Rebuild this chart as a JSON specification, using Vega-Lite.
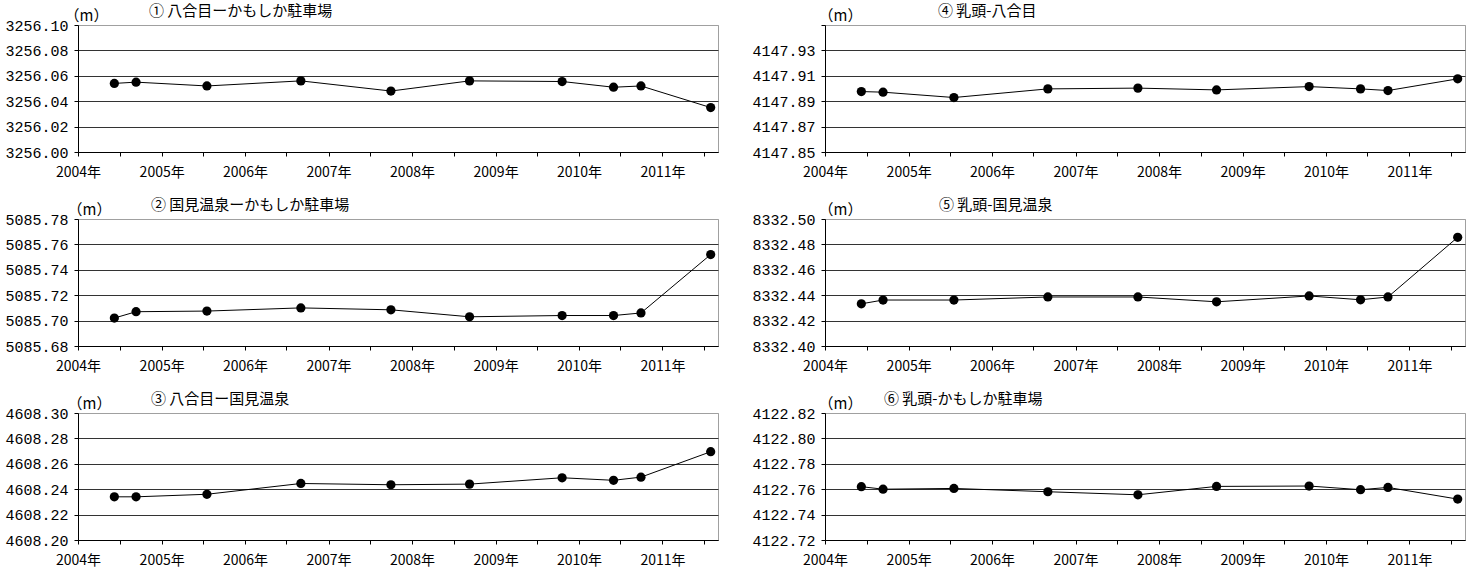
{
  "$schema": "https://vega.github.io/schema/vega-lite/v6.json",
  "padding": {"left": 4, "top": 3, "right": 4, "bottom": 2},
  "background": "white",
  "datasets": {
    "survey": [
      {"panel": 1, "date": "2004/06/08", "h": 3256.054},
      {"panel": 1, "date": "2004/09/11", "h": 3256.055},
      {"panel": 1, "date": "2005/07/18", "h": 3256.052},
      {"panel": 1, "date": "2006/09/02", "h": 3256.056},
      {"panel": 1, "date": "2007/10/01", "h": 3256.048},
      {"panel": 1, "date": "2008/09/09", "h": 3256.056},
      {"panel": 1, "date": "2009/10/19", "h": 3256.0555},
      {"panel": 1, "date": "2010/06/01", "h": 3256.051},
      {"panel": 1, "date": "2010/09/29", "h": 3256.052},
      {"panel": 1, "date": "2011/07/31", "h": 3256.035},
      {"panel": 2, "date": "2004/06/08", "h": 5085.702},
      {"panel": 2, "date": "2004/09/11", "h": 5085.707},
      {"panel": 2, "date": "2005/07/18", "h": 5085.7075},
      {"panel": 2, "date": "2006/09/02", "h": 5085.710},
      {"panel": 2, "date": "2007/10/01", "h": 5085.7085},
      {"panel": 2, "date": "2008/09/09", "h": 5085.703},
      {"panel": 2, "date": "2009/10/19", "h": 5085.704},
      {"panel": 2, "date": "2010/06/01", "h": 5085.704},
      {"panel": 2, "date": "2010/09/29", "h": 5085.706},
      {"panel": 2, "date": "2011/07/31", "h": 5085.752},
      {"panel": 3, "date": "2004/06/08", "h": 4608.234},
      {"panel": 3, "date": "2004/09/11", "h": 4608.234},
      {"panel": 3, "date": "2005/07/18", "h": 4608.236},
      {"panel": 3, "date": "2006/09/02", "h": 4608.2445},
      {"panel": 3, "date": "2007/10/01", "h": 4608.2435},
      {"panel": 3, "date": "2008/09/09", "h": 4608.244},
      {"panel": 3, "date": "2009/10/19", "h": 4608.249},
      {"panel": 3, "date": "2010/06/01", "h": 4608.247},
      {"panel": 3, "date": "2010/09/29", "h": 4608.2495},
      {"panel": 3, "date": "2011/07/31", "h": 4608.2695},
      {"panel": 4, "date": "2004/06/08", "h": 4147.8976},
      {"panel": 4, "date": "2004/09/11", "h": 4147.8971},
      {"panel": 4, "date": "2005/07/18", "h": 4147.8929},
      {"panel": 4, "date": "2006/09/02", "h": 4147.8997},
      {"panel": 4, "date": "2007/10/01", "h": 4147.9003},
      {"panel": 4, "date": "2008/09/09", "h": 4147.8989},
      {"panel": 4, "date": "2009/10/19", "h": 4147.9015},
      {"panel": 4, "date": "2010/06/01", "h": 4147.8997},
      {"panel": 4, "date": "2010/09/29", "h": 4147.8984},
      {"panel": 4, "date": "2011/07/31", "h": 4147.9076},
      {"panel": 5, "date": "2004/06/08", "h": 8332.4332},
      {"panel": 5, "date": "2004/09/11", "h": 8332.4362},
      {"panel": 5, "date": "2005/07/18", "h": 8332.4362},
      {"panel": 5, "date": "2006/09/02", "h": 8332.4386},
      {"panel": 5, "date": "2007/10/01", "h": 8332.4386},
      {"panel": 5, "date": "2008/09/09", "h": 8332.4348},
      {"panel": 5, "date": "2009/10/19", "h": 8332.4394},
      {"panel": 5, "date": "2010/06/01", "h": 8332.4364},
      {"panel": 5, "date": "2010/09/29", "h": 8332.4386},
      {"panel": 5, "date": "2011/07/31", "h": 8332.4856},
      {"panel": 6, "date": "2004/06/08", "h": 4122.762},
      {"panel": 6, "date": "2004/09/11", "h": 4122.760},
      {"panel": 6, "date": "2005/07/18", "h": 4122.7606},
      {"panel": 6, "date": "2006/09/02", "h": 4122.758},
      {"panel": 6, "date": "2007/10/01", "h": 4122.7556},
      {"panel": 6, "date": "2008/09/09", "h": 4122.7622},
      {"panel": 6, "date": "2009/10/19", "h": 4122.7625},
      {"panel": 6, "date": "2010/06/01", "h": 4122.7596},
      {"panel": 6, "date": "2010/09/29", "h": 4122.7614},
      {"panel": 6, "date": "2011/07/31", "h": 4122.7522}
    ]
  },
  "data": {"name": "survey"},
  "columns": 2,
  "spacing": {"row": 17, "column": 32},
  "concat": [
    {
      "width": 640, "height": 127,
      "title": {"text": "① 八合目ーかもしか駐車場", "dx": 71, "dy": 15},
      "transform": [{"filter": "datum.panel == 1"}],
      "encoding": {
        "x": {"field": "date", "type": "temporal", "scale": {"domain": [{"year": 2004, "month": 1, "date": 1}, {"year": 2011, "month": 9, "date": 1}]}},
        "y": {"field": "h", "type": "quantitative", "scale": {"domain": [3256.00, 3256.10], "zero": false, "nice": false},
              "axis": {"title": "（m）", "values": [3256.00, 3256.02, 3256.04, 3256.06, 3256.08, 3256.10], "titleX": -14}}
      },
      "layer": [
        {"mark": {"type": "line", "color": "#000000", "strokeWidth": 1}},
        {"mark": {"type": "point", "filled": true, "color": "#000000", "size": 85, "opacity": 1}}
      ]
    },
    {
      "width": 640, "height": 127,
      "title": {"text": "④ 乳頭-八合目", "dx": 113, "dy": 15},
      "transform": [{"filter": "datum.panel == 4"}],
      "encoding": {
        "x": {"field": "date", "type": "temporal", "scale": {"domain": [{"year": 2004, "month": 1, "date": 1}, {"year": 2011, "month": 9, "date": 1}]}},
        "y": {"field": "h", "type": "quantitative", "scale": {"domain": [4147.85, 4147.95], "zero": false, "nice": false},
              "axis": {"title": "（m）", "values": [4147.85, 4147.87, 4147.89, 4147.91, 4147.93, 4147.95], "titleX": -7,
                       "labelExpr": "datum.value > 4147.94 ? '' : format(datum.value, '.2f')"}}
      },
      "layer": [
        {"mark": {"type": "line", "color": "#000000", "strokeWidth": 1}},
        {"mark": {"type": "point", "filled": true, "color": "#000000", "size": 85, "opacity": 1}}
      ]
    },
    {
      "width": 640, "height": 127,
      "title": {"text": "② 国見温泉ーかもしか駐車場", "dx": 73, "dy": 15},
      "transform": [{"filter": "datum.panel == 2"}],
      "encoding": {
        "x": {"field": "date", "type": "temporal", "scale": {"domain": [{"year": 2004, "month": 1, "date": 1}, {"year": 2011, "month": 9, "date": 1}]}},
        "y": {"field": "h", "type": "quantitative", "scale": {"domain": [5085.68, 5085.78], "zero": false, "nice": false},
              "axis": {"title": "（m）", "values": [5085.68, 5085.70, 5085.72, 5085.74, 5085.76, 5085.78], "titleX": -11}}
      },
      "layer": [
        {"mark": {"type": "line", "color": "#000000", "strokeWidth": 1}},
        {"mark": {"type": "point", "filled": true, "color": "#000000", "size": 85, "opacity": 1}}
      ]
    },
    {
      "width": 640, "height": 127,
      "title": {"text": "⑤ 乳頭-国見温泉", "dx": 114, "dy": 15},
      "transform": [{"filter": "datum.panel == 5"}],
      "encoding": {
        "x": {"field": "date", "type": "temporal", "scale": {"domain": [{"year": 2004, "month": 1, "date": 1}, {"year": 2011, "month": 9, "date": 1}]}},
        "y": {"field": "h", "type": "quantitative", "scale": {"domain": [8332.40, 8332.50], "zero": false, "nice": false},
              "axis": {"title": "（m）", "values": [8332.40, 8332.42, 8332.44, 8332.46, 8332.48, 8332.50], "titleX": -7}}
      },
      "layer": [
        {"mark": {"type": "line", "color": "#000000", "strokeWidth": 1}},
        {"mark": {"type": "point", "filled": true, "color": "#000000", "size": 85, "opacity": 1}}
      ]
    },
    {
      "width": 640, "height": 127,
      "title": {"text": "③ 八合目ー国見温泉", "dx": 73, "dy": 15},
      "transform": [{"filter": "datum.panel == 3"}],
      "encoding": {
        "x": {"field": "date", "type": "temporal", "scale": {"domain": [{"year": 2004, "month": 1, "date": 1}, {"year": 2011, "month": 9, "date": 1}]}},
        "y": {"field": "h", "type": "quantitative", "scale": {"domain": [4608.20, 4608.30], "zero": false, "nice": false},
              "axis": {"title": "（m）", "values": [4608.20, 4608.22, 4608.24, 4608.26, 4608.28, 4608.30], "titleX": -11}}
      },
      "layer": [
        {"mark": {"type": "line", "color": "#000000", "strokeWidth": 1}},
        {"mark": {"type": "point", "filled": true, "color": "#000000", "size": 85, "opacity": 1}}
      ]
    },
    {
      "width": 640, "height": 127,
      "title": {"text": "⑥ 乳頭-かもしか駐車場", "dx": 59, "dy": 15},
      "transform": [{"filter": "datum.panel == 6"}],
      "encoding": {
        "x": {"field": "date", "type": "temporal", "scale": {"domain": [{"year": 2004, "month": 1, "date": 1}, {"year": 2011, "month": 9, "date": 1}]}},
        "y": {"field": "h", "type": "quantitative", "scale": {"domain": [4122.72, 4122.82], "zero": false, "nice": false},
              "axis": {"title": "（m）", "values": [4122.72, 4122.74, 4122.76, 4122.78, 4122.80, 4122.82], "titleX": -7}}
      },
      "layer": [
        {"mark": {"type": "line", "color": "#000000", "strokeWidth": 1}},
        {"mark": {"type": "point", "filled": true, "color": "#000000", "size": 85, "opacity": 1}}
      ]
    }
  ],
  "config": {
    "view": {"stroke": "#a0a0a0", "strokeWidth": 1},
    "title": {"anchor": "start", "frame": "group", "font": "Noto Sans CJK JP", "fontSize": 15, "fontWeight": "normal", "color": "#000000", "offset": 4},
    "axis": {"domainColor": "#000000", "tickColor": "#000000", "labelColor": "#000000", "titleColor": "#000000", "tickSize": 4},
    "axisX": {
      "title": null, "grid": false,
      "tickCount": {"interval": "month", "step": 6},
      "labelExpr": "month(datum.value) == 0 ? timeFormat(datum.value, '%Y') + '年' : ''",
      "labelFont": "Noto Sans CJK JP", "labelFontSize": 14, "labelPadding": 9,
      "labelOverlap": false, "labelFlush": false, "labelBound": false
    },
    "axisY": {
      "titleAngle": 0, "titleAlign": "left", "titleBaseline": "alphabetic",
      "titleY": -5, "titleFont": "Noto Sans CJK JP", "titleFontSize": 15, "titleFontWeight": "normal",
      "grid": true, "gridColor": {"condition": {"test": "datum.index == 1", "value": "#a0a0a0"}, "value": "#333333"},
      "gridWidth": 1,
      "format": ".2f",
      "labelFont": "Liberation Mono", "labelFontSize": 15, "labelPadding": 6
    }
  }
}
